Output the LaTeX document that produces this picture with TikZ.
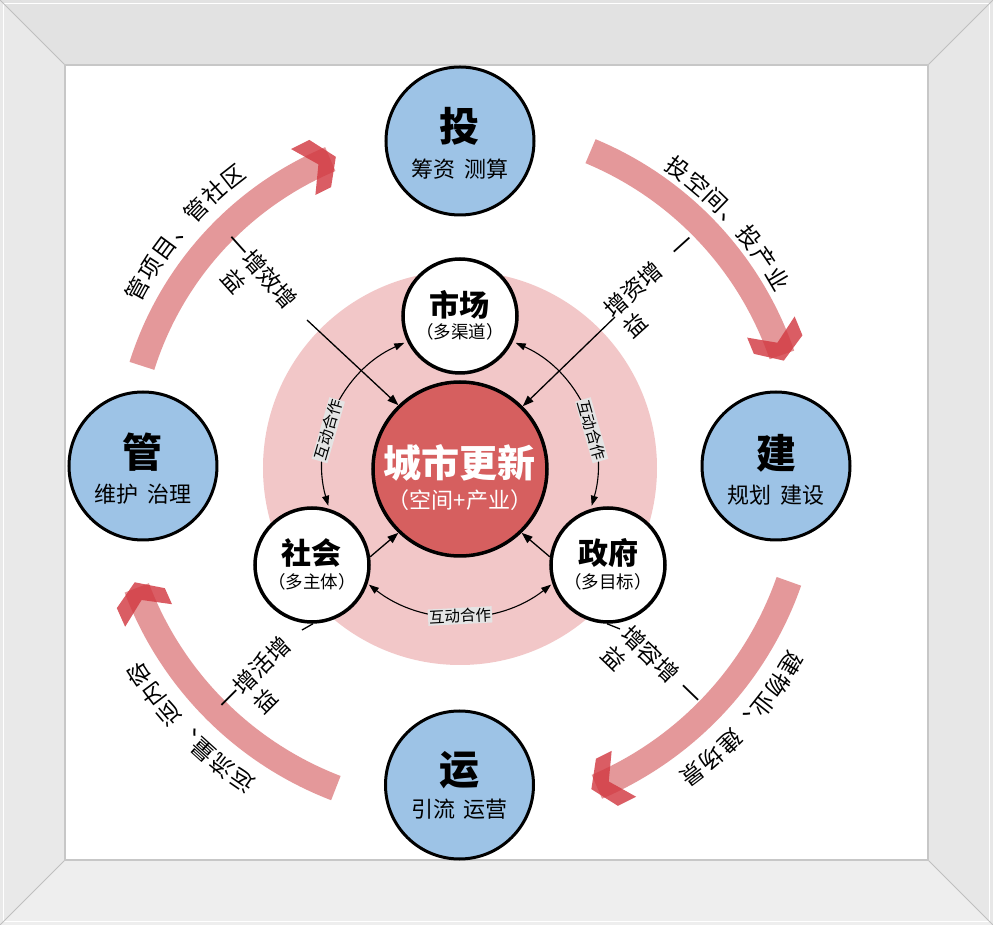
\documentclass[tikz,border=0pt]{standalone}
\usepackage{fontspec}
\setmainfont{Noto Sans CJK SC}
\usetikzlibrary{arrows.meta}
\definecolor{blueC}{HTML}{9DC3E6}
\definecolor{pinkD}{HTML}{F2C7C8}
\definecolor{redC}{HTML}{D65F5F}
\definecolor{bandC}{HTML}{E4989A}
\definecolor{chevC}{HTML}{D23A42}
\definecolor{frT}{HTML}{E2E2E2}
\definecolor{frL}{HTML}{E9E9E9}
\definecolor{frR}{HTML}{E7E7E7}
\definecolor{frB}{HTML}{EEEEEE}
\definecolor{labG}{HTML}{E4E4E4}
\newcommand\fs[1]{\fontsize{#1}{#1}\selectfont}
\newcommand\arctext[5]{%
  \foreach \ch [count=\i from 0] in {#5} {
    \pgfmathsetmacro\ang{#3-\i*#4}
    \node[achar, rotate=\ang-90] (#1-\i) at (\ang:#2) {\ch};
  }
}
\newcommand\lc[5]{\node[lchar, rotate=#4] (#1) at (#2,#3) {#5};}
\newcommand\under[1]{\llap{\raisebox{-28pt}[0pt][0pt]{#1}\hspace{46pt}}}
% #1 start angle, #2 tip angle, #3 radius
\newcommand\redarrow[3]{%
  \pgfmathsetmacro\wA{36*57.2958/#3}%
  \pgfmathsetmacro\dA{17*57.2958/#3}%
  \pgfmathsetmacro\nA{19*57.2958/#3}%
  \pgfmathsetmacro\eA{6*57.2958/#3}%
  \draw[band] (#1:#3) arc[start angle=#1, end angle={#2+\eA}, radius=#3];
  \fill[chev] ({#2+\wA}:{#3+26}) -- ({#2+\dA}:{#3+26}) -- (#2:#3) -- ({#2+\dA}:{#3-26})
     -- ({#2+\wA}:{#3-26}) -- ({#2+\nA}:#3) -- cycle;
}
\begin{document}
\begin{tikzpicture}[x=1pt,y=1pt,
  bigc/.style={circle, draw=black, line width=3pt, fill=blueC, minimum size=148pt, inner sep=0pt},
  smallc/.style={circle, draw=black, line width=3.5pt, fill=white, minimum size=114pt, inner sep=0pt},
  band/.style={line width=26pt, color=bandC},
  chev/.style={fill=chevC, fill opacity=0.82},
  achar/.style={font=\fs{23}, inner sep=0pt, text height=0.8em, text depth=0.12em},
  lchar/.style={font=\fs{23}, inner sep=0pt, text height=0.8em, text depth=0.12em},
  conn/.style={line width=1.3pt, -{Triangle[length=11pt,width=8pt]}},
  plain/.style={line width=1.3pt},
  dbl/.style={line width=1.1pt, {Triangle[length=10pt,width=7pt]}-{Triangle[length=10pt,width=7pt]}},
  hz/.style={fill=labG, inner sep=1pt, font=\fs{15.5}},
  bigt/.style={font=\fs{40}\bfseries},
  subt/.style={font=\fs{22}},
  midt/.style={font=\fs{30}\bfseries},
  msub/.style={font=\fs{17.5}}]
\useasboundingbox (-459.5,-459) rectangle (533.5,466);
% frame
\fill[frT] (-459.5,466) -- (533.5,466) -- (468.5,401) -- (-394.5,401) -- cycle;
\fill[frL] (-459.5,466) -- (-394.5,401) -- (-394.5,-394) -- (-459.5,-459) -- cycle;
\fill[frR] (533.5,466) -- (533.5,-459) -- (468.5,-394) -- (468.5,401) -- cycle;
\fill[frB] (-459.5,-459) -- (533.5,-459) -- (468.5,-394) -- (-394.5,-394) -- cycle;
\draw[white, line width=1.5pt] (-456,-455.5) rectangle (530,462.5);
\draw[black!25, line width=0.8pt] (-459.5,466) -- (-394.5,401) (533.5,466) -- (468.5,401)
  (533.5,-459) -- (468.5,-394) (-459.5,-459) -- (-394.5,-394);
\fill[white] (-394.5,-394) rectangle (468.5,401);
\draw[black!22, line width=1.5pt] (-394.5,-394) rectangle (468.5,401);
% pink disk
\fill[pinkD] (0.5,-2) circle[radius=197];
% red curved arrows
\redarrow{162.5}{111.8}{333}
\redarrow{67.4}{18}{341}
\redarrow{-19.3}{-67.8}{349}
\redarrow{-111}{-160.3}{345}
% outer texts
\arctext{tlt}{362}{151.3}{3.87}{管,项,目,、,管,社,区}
\arctext{trt}{364}{53.7}{3.87}{投,空,间,、,投,产,业}
\arctext{brt}{381}{-30.8}{3.68}{建,物,业,、,建,场,景}
\arctext{blt}{377}{235.4}{3.72}{运,流,量,、,运,内,容}
% centre and small circles
\node[circle, draw=black, line width=3.5pt, fill=redC, minimum size=174pt, inner sep=0pt] (cc) at (0.5,-3) {};
\node[smallc] (sc) at (0.5,150) {};
\node[smallc] (sh) at (-147.5,-99) {};
\node[smallc] (zf) at (148.5,-99) {};
% leader lines
\coordinate (tlL) at (-152.5,146);
\coordinate (trL) at (155.5,149);
\coordinate (blL) at (-157.5,-164);
\coordinate (brL) at (160.5,-163);
\draw[conn] (tlL) -- (cc.134);
\draw[conn] (trL) -- (cc.45);
\draw[conn] (sh.8) -- (cc.226);
\draw[conn] (zf.172) -- (cc.-46);
\draw[plain] (sh.-89) -- (blL);
\draw[plain] (zf.-91) -- (brL);
% interaction arrows
\draw[dbl] ([shift={(0.5,-2)}]114:137) arc[start angle=114, end angle=196, radius=137];
\draw[dbl] ([shift={(0.5,-2)}]66:137) arc[start angle=66, end angle=-16, radius=137];
\draw[dbl] ([shift={(0.5,-2)}]232:148) arc[start angle=232, end angle=308, radius=148];
\node[hz, rotate=74] (hzl) at ([shift={(0.5,-2)}]164:137) {互动合作};
\node[hz, rotate=-74] (hzr) at ([shift={(0.5,-2)}]16:137) {互动合作};
\node[hz, rotate=3] (hzb) at ([shift={(0.5,-2)}]270:148) {互动合作};
% inner labels
\lc{tl1}{-201.5}{191.5}{-48}{一增效增\under{益}}
\lc{tr1}{193.6}{186.8}{42}{增资增\under{益}\hspace{20pt}一}
\lc{bl1}{-202}{-211.5}{45}{一增活增\under{益}}
\lc{br1}{198.9}{-203.4}{-44}{增容增\under{益}\hspace{10pt}一}
% texts in centre and small circles
\node[text=white, font=\fs{38}\bfseries] (cct) at ([yshift=6pt]cc.center) {城市更新};
\node[text=white, font=\fs{22}] (ccs) at ([yshift=-31pt]cc.center) {（空间+产业）};
\node[midt] (sct) at ([yshift=11pt]sc.center) {市场};
\node[msub] (scs) at ([yshift=-16pt]sc.center) {（多渠道）};
\node[midt] (sht) at ([yshift=12pt]sh.center) {社会};
\node[msub] (shs) at ([yshift=-17pt]sh.center) {（多主体）};
\node[midt] (zft) at ([yshift=12pt]zf.center) {政府};
\node[msub] (zfs) at ([yshift=-17pt]zf.center) {（多目标）};
% outer blue circles
\node[bigc] (tou) at (0.5,325) {};
\node[bigc] (jian) at (316.5,0) {};
\node[bigc] (guan) at (-316.5,0) {};
\node[bigc] (yun) at (0,-319) {};
\node[bigt] (tout) at ([yshift=15pt]tou.center) {投};
\node[subt] (tous) at ([yshift=-28pt]tou.center) {筹资\hspace{0.4em}测算};
\node[bigt] (jiant) at ([yshift=13pt]jian.center) {建};
\node[subt] (jians) at ([yshift=-29pt]jian.center) {规划\hspace{0.4em}建设};
\node[bigt] (guant) at ([yshift=14pt]guan.center) {管};
\node[subt] (guans) at ([yshift=-28pt]guan.center) {维护\hspace{0.4em}治理};
\node[bigt] (yunt) at ([yshift=15pt]yun.center) {运};
\node[subt] (yuns) at ([yshift=-24pt]yun.center) {引流\hspace{0.4em}运营};
\end{tikzpicture}
\end{document}
